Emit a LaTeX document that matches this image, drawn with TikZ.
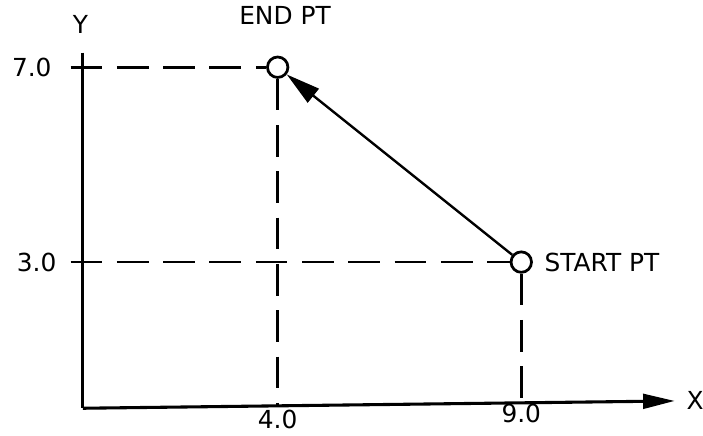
\documentclass[tikz,border=0pt]{standalone}
\usepackage{fontspec}
\setmainfont{DejaVu Sans}
\usepackage{tikz}
\usetikzlibrary{arrows.meta, positioning}

\begin{document}
\begin{tikzpicture}[
  x=1cm, y=1cm,
  pt/.style={circle, draw=black, line width=1.6pt, fill=white, minimum size=0.42cm, inner sep=0pt},
  lbl/.style={font=\fontsize{14.5}{16}\selectfont, inner sep=1pt},
  axis/.style={line width=1.8pt, -{Triangle[length=6.5mm, width=3mm]}},
  guide/.style={line width=1.5pt, dash pattern=on 0.65cm off 0.3cm},
  arrow/.style={line width=1.4pt, -{Triangle[length=7mm, width=3.6mm]}}
]
\useasboundingbox (-1.70,-0.55) rectangle (12.73,8.38);

% axes
\coordinate (origin) at (0,0);
\coordinate (ytop) at (0,7.3);
\coordinate (xend) at (12.15,0.15);
\draw[line width=1.8pt] (ytop) -- (origin);
\draw[axis] (origin) -- (xend);
\node[lbl, above left=0.35cm and -0.15cm of ytop] (ylab) {Y};
\node[lbl, right=0.2cm of xend] (xlab) {X};

% points
\node[pt] (endpt) at (4,7) {};
\node[pt] (startpt) at (9,3) {};
\node[lbl, above=0.6cm of endpt, xshift=0.15cm] {END PT};
\node[lbl, right=0.2cm of startpt] {START PT};

% guide lines
\coordinate (y7) at (-0.25,7);
\coordinate (y3) at (-0.25,3);
\coordinate (x4) at (4,0.05);
\coordinate (x9) at (9,0.2);
\node[lbl, left=0.35cm of y7] {7.0};
\node[lbl, left=0.25cm of y3] {3.0};
\node[lbl, below=0.04cm of x4] {4.0};
\node[lbl, below=0.08cm of x9] {9.0};
\draw[guide] (y7) -- (endpt.west);
\draw[guide] (y3) -- (startpt.west);
\draw[guide] (endpt.south) -- (x4);
\draw[guide] (startpt.south) -- (x9);

% move
\draw[arrow] (startpt) -- (endpt);
\end{tikzpicture}
\end{document}
